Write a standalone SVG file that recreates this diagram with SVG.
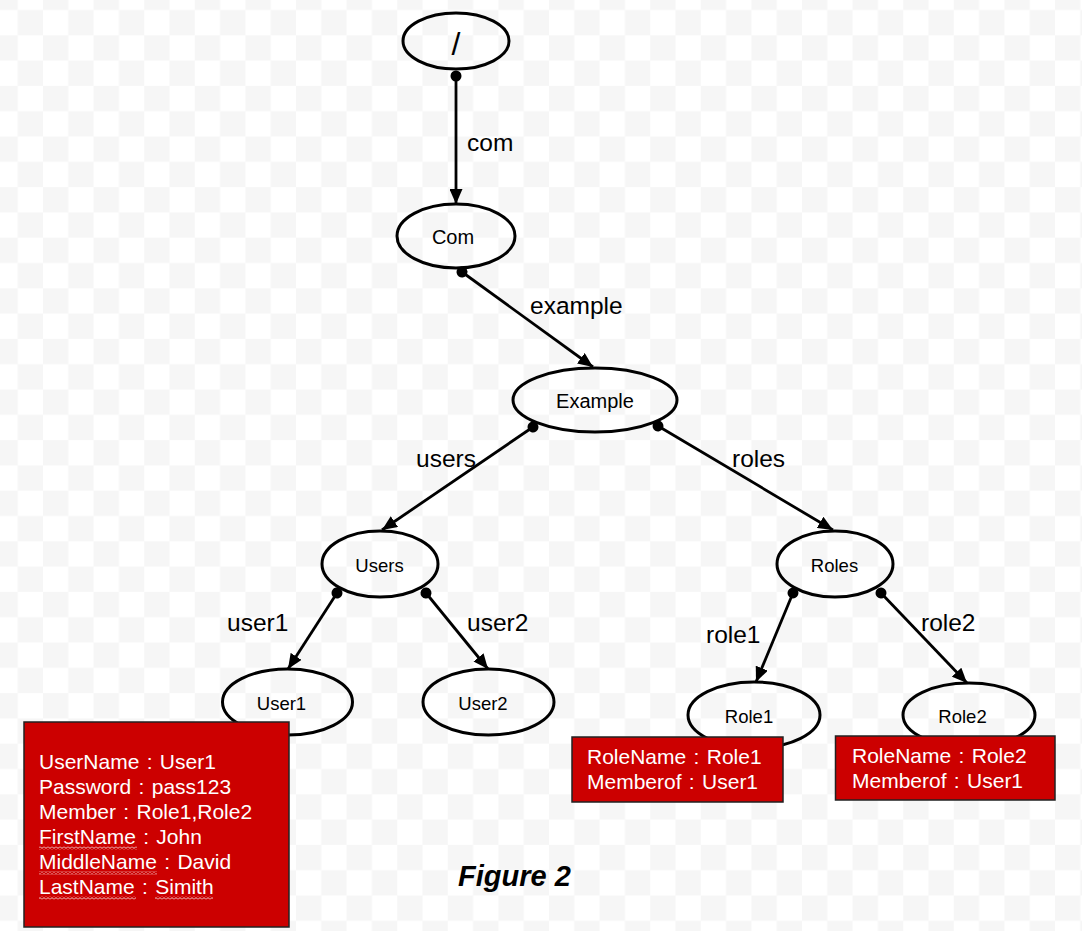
<svg xmlns="http://www.w3.org/2000/svg" width="1082" height="931" viewBox="0 0 1082 931">
<style>
.node ellipse{fill:none;stroke:#000;stroke-width:3}
.nl{font-family:"Liberation Sans",Arial,sans-serif;font-size:18.5px;fill:#000;text-anchor:middle}
.el{font-family:"Liberation Sans",Arial,sans-serif;font-size:24.5px;fill:#000}
.edge{stroke:#000;stroke-width:2.8;fill:none;marker-start:url(#dot);marker-end:url(#arr)}
.box rect{fill:#cc0000;stroke:#222;stroke-width:1.5}
.bt{font-family:"Liberation Sans",Arial,sans-serif;font-size:21px;word-spacing:1.5px;fill:#fff}
</style>
<defs>
<pattern id="chk" patternUnits="userSpaceOnUse" x="-7.6" y="-15.3" width="50.6" height="50.6">
<rect width="50.6" height="50.6" fill="#fff"/>
<rect width="25.3" height="25.3" fill="#f6f6f6"/>
<rect x="25.3" y="25.3" width="25.3" height="25.3" fill="#f6f6f6"/>
</pattern>
<pattern id="wave" patternUnits="userSpaceOnUse" width="4" height="3">
<path d="M0,0.6 L2,2.4 L4,0.6" stroke="#f3d6d6" stroke-width="0.9" fill="none"/>
</pattern>
<marker id="arr" markerUnits="userSpaceOnUse" viewBox="0 0 15 13" refX="15" refY="6.5" markerWidth="15" markerHeight="13" orient="auto">
<path d="M0,0 L15,6.5 L0,13 Z" fill="#000"/>
</marker>
<marker id="dot" markerUnits="userSpaceOnUse" viewBox="0 0 12 12" refX="6" refY="6" markerWidth="12" markerHeight="12" orient="auto">
<circle cx="6" cy="6" r="5.5" fill="#000"/>
</marker>
</defs>
<rect width="1082" height="931" fill="url(#chk)"/>

<g id="connectors">
<line class="edge" x1="456" y1="76" x2="456" y2="204"/>
<line class="edge" x1="462" y1="272" x2="593" y2="367"/>
<line class="edge" x1="533" y1="427" x2="382" y2="530"/>
<line class="edge" x1="658" y1="426" x2="833" y2="530"/>
<line class="edge" x1="337" y1="593" x2="288" y2="669"/>
<line class="edge" x1="426" y1="593" x2="488" y2="669"/>
<line class="edge" x1="793" y1="593" x2="756" y2="682"/>
<line class="edge" x1="881" y1="593" x2="967" y2="683"/>
<text class="el" x="467" y="151">com</text>
<text class="el" x="530" y="314">example</text>
<text class="el" x="416" y="467">users</text>
<text class="el" x="732" y="467">roles</text>
<text class="el" x="227" y="631">user1</text>
<text class="el" x="467" y="631">user2</text>
<text class="el" x="706" y="643">role1</text>
<text class="el" x="921" y="631">role2</text>
</g>

<g id="root" class="node">
<ellipse cx="456" cy="41" rx="53" ry="28"/>
<text class="nl" x="456" y="55" style="font-size:32px">/</text>
</g>
<g id="com" class="node">
<ellipse cx="456" cy="236" rx="59" ry="32"/>
<text class="nl" x="453" y="244" style="font-size:20px">Com</text>
</g>
<g id="example" class="node">
<ellipse cx="595" cy="400" rx="82" ry="32"/>
<text class="nl" x="595" y="408" style="font-size:20px">Example</text>
</g>
<g id="users" class="node">
<ellipse cx="380" cy="564" rx="58" ry="33"/>
<text class="nl" x="379.5" y="572">Users</text>
</g>
<g id="roles" class="node">
<ellipse cx="835" cy="564" rx="58" ry="33"/>
<text class="nl" x="834.5" y="572">Roles</text>
</g>
<g id="user1" class="node">
<ellipse cx="287.5" cy="702" rx="65" ry="33"/>
<text class="nl" x="281.5" y="710">User1</text>
</g>
<g id="user2" class="node">
<ellipse cx="488.5" cy="702" rx="65.5" ry="33"/>
<text class="nl" x="483" y="710">User2</text>
</g>
<g id="role1" class="node">
<ellipse cx="754" cy="715" rx="66" ry="33"/>
<text class="nl" x="749" y="723">Role1</text>
</g>
<g id="role2" class="node">
<ellipse cx="969" cy="715" rx="66" ry="32"/>
<text class="nl" x="962.5" y="723">Role2</text>
</g>

<g id="user1-box" class="box">
<rect x="24" y="722" width="265" height="205"/>
<text class="bt" x="39" y="769">UserName : User1</text>
<text class="bt" x="39" y="794">Password : pass123</text>
<text class="bt" x="39" y="819">Member : Role1,Role2</text>
<text class="bt" x="39" y="844">FirstName : John</text>
<text class="bt" x="39" y="869">MiddleName  : David</text>
<text class="bt" x="39" y="894">LastName : Simith</text>
<rect x="39" y="846.5" width="98" height="3" style="stroke:none;fill:url(#wave)"/>
<rect x="39" y="871.5" width="118" height="3" style="stroke:none;fill:url(#wave)"/>
<rect x="39" y="896.5" width="97" height="3" style="stroke:none;fill:url(#wave)"/>
<rect x="155" y="896.5" width="58" height="3" style="stroke:none;fill:url(#wave)"/>
</g>
<g id="role1-box" class="box">
<rect x="572" y="737" width="211" height="65"/>
<text class="bt" x="587" y="764">RoleName : Role1</text>
<text class="bt" x="587" y="789">Memberof : User1</text>
</g>
<g id="role2-box" class="box">
<rect x="835.5" y="736" width="219.5" height="64"/>
<text class="bt" x="852" y="763">RoleName : Role2</text>
<text class="bt" x="852" y="788">Memberof : User1</text>
</g>

<text x="458" y="886" style="font-family:'Liberation Sans',Arial,sans-serif;font-size:29px;font-weight:bold;font-style:italic;fill:#000">Figure 2</text>
</svg>
